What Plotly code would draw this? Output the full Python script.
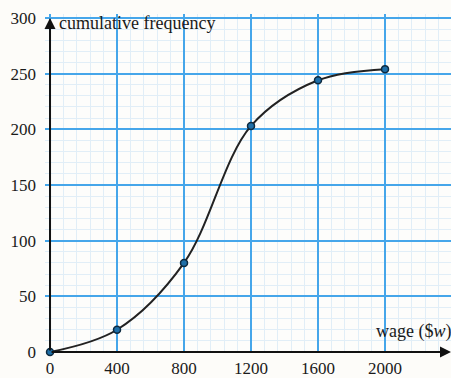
import plotly.graph_objects as go

# Cumulative frequency of wages
wage = [0, 400, 800, 1200, 1600, 2000]
cum_freq = [0, 20, 80, 203, 244, 254]

x_ticks = [0, 400, 800, 1200, 1600, 2000]
y_ticks = [0, 50, 100, 150, 200, 250, 300]

serif = "Liberation Serif, Times New Roman, serif"
major_grid = "#45a6ea"
minor_grid = "#e1eef7"

fig = go.Figure()

fig.add_trace(go.Scatter(
    x=wage, y=cum_freq,
    mode="lines+markers",
    line=dict(color="#222222", width=2, shape="spline", smoothing=1.0),
    marker=dict(size=7, color="#1e6fa8", line=dict(color="#0d2a40", width=1.5)),
    cliponaxis=False,
    hoverinfo="x+y",
))

# axis arrows
fig.add_annotation(x=0, y=300, ax=0, ay=0, xref="x", yref="y", axref="x", ayref="y",
                   showarrow=True, arrowhead=2, arrowsize=1.1, arrowwidth=2,
                   arrowcolor="#111111", text="", standoff=0, startstandoff=0)
fig.add_annotation(x=2394, y=0, ax=0, ay=0, xref="x", yref="y", axref="x", ayref="y",
                   showarrow=True, arrowhead=2, arrowsize=1.1, arrowwidth=2,
                   arrowcolor="#111111", text="", standoff=0, startstandoff=0)

fig.add_annotation(x=40, y=295, xref="x", yref="y", xanchor="left", yanchor="middle",
                   text="cumulative frequency", showarrow=False,
                   font=dict(family=serif, size=18, color="#1a1a1a"))
fig.add_annotation(x=1935, y=7, xref="x", yref="y", xanchor="left", yanchor="bottom",
                   text="wage ($<i>w</i>)", showarrow=False,
                   font=dict(family=serif, size=18, color="#1a1a1a"))

fig.update_xaxes(
    range=[-30, 2394], automargin=False,
    tickvals=x_ticks, ticktext=[str(v) for v in x_ticks],
    showgrid=True, gridcolor=major_grid, gridwidth=1.5,
    minor=dict(dtick=80, tick0=0, showgrid=True, gridcolor=minor_grid, gridwidth=1),
    zeroline=False, showline=False, ticks="",
    ticklabelstandoff=4,
    tickfont=dict(family=serif, size=17, color="#1a1a1a"),
)
fig.update_yaxes(
    range=[0, 303.5], automargin=False,
    tickvals=y_ticks, ticktext=[str(v) for v in y_ticks],
    showgrid=True, gridcolor=major_grid, gridwidth=1.5,
    minor=dict(dtick=10, tick0=0, showgrid=True, gridcolor=minor_grid, gridwidth=1),
    zeroline=False, showline=False, ticks="",
    ticklabelstandoff=8,
    tickfont=dict(family=serif, size=17, color="#1a1a1a"),
)

fig.update_layout(
    width=451, height=378,
    margin=dict(l=45, r=0, t=14, b=26),
    paper_bgcolor="#fdfcf9", plot_bgcolor="#fdfdfb",
    showlegend=False,
)

fig.write_html("out.html")
